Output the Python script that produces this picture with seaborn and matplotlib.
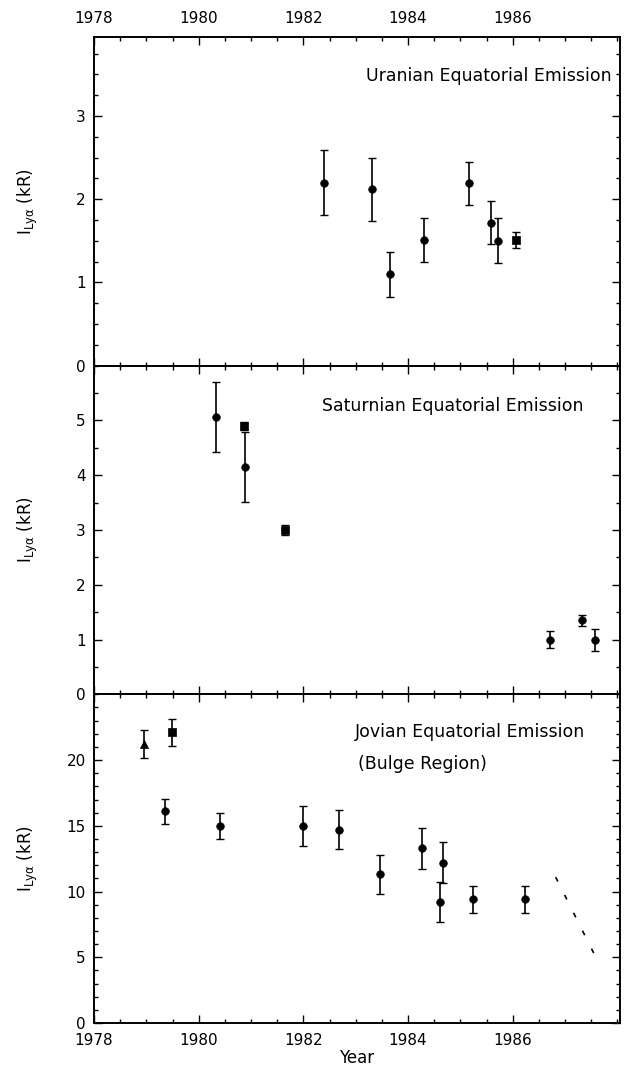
import matplotlib
matplotlib.use("Agg")
import matplotlib.pyplot as plt
import seaborn as sns
import numpy as np
import pandas as pd
from matplotlib.ticker import MultipleLocator

# ---------------- data ----------------
years_u = [1982.39, 1983.32, 1983.66, 1984.31, 1985.17, 1985.58, 1985.72, 1986.06]
vals_u = [2.20, 2.12, 1.10, 1.51, 2.19, 1.72, 1.50, 1.51]
errs_u = [0.39, 0.38, 0.27, 0.26, 0.26, 0.26, 0.27, 0.10]
mark_u = ["o", "o", "o", "o", "o", "o", "o", "s"]

years_s = [1980.34, 1980.86, 1980.88, 1981.65, 1986.72, 1987.33, 1987.57]
vals_s = [5.07, 4.90, 4.15, 3.00, 1.00, 1.35, 1.00]
errs_s = [0.64, 0.08, 0.63, 0.09, 0.16, 0.10, 0.20]
mark_s = ["o", "s", "o", "s", "o", "o", "o"]

years_j = [1978.95, 1979.36, 1979.49, 1980.40, 1981.99, 1982.68, 1983.47,
           1984.27, 1984.61, 1984.67, 1985.24, 1986.24]
vals_j = [21.2, 16.1, 22.1, 15.0, 15.0, 14.7, 11.3, 13.3, 9.2, 12.2, 9.4, 9.4]
errs_j = [1.05, 0.97, 1.00, 1.00, 1.50, 1.50, 1.50, 1.55, 1.50, 1.55, 1.00, 1.00]
mark_j = ["^", "o", "s", "o", "o", "o", "o", "o", "o", "o", "o", "o"]

dash_years = [1986.82, 1987.55]
dash_vals = [11.1, 5.3]

titles = [["Uranian Equatorial Emission"], ["Saturnian Equatorial Emission"],
          ["Jovian Equatorial Emission", "(Bulge Region)"]]
year_ticks = [1978, 1980, 1982, 1984, 1986]

# ---------------- style ----------------
sns.set_theme(style="ticks")
plt.rcParams["font.family"] = ["DejaVu Sans"]
plt.rcParams["mathtext.default"] = "regular"
plt.rcParams["text.color"] = "black"
plt.rcParams["axes.labelcolor"] = "black"

fig = plt.figure(figsize=(6.26, 10.69), dpi=100)
left, right = 94 / 626, 620 / 626
top_px, bot_px = 37, 1023
h = (bot_px - top_px) / 3
axes = []
for i in range(3):
    y0 = 1 - (top_px + (i + 1) * h) / 1069
    ax = fig.add_axes([left, y0, right - left, h / 1069])
    axes.append(ax)

panels = [
    (years_u, vals_u, errs_u, mark_u, (0, 3.95), [0, 1, 2, 3], 0.25),
    (years_s, vals_s, errs_s, mark_s, (0, 6.0), [0, 1, 2, 3, 4, 5], 0.5),
    (years_j, vals_j, errs_j, mark_j, (0, 25.0), [0, 5, 10, 15, 20], 1.0),
]
# text anchors (axes fraction, horizontal alignment) for the panel titles
title_pos = [[(0.985, 0.882, "right")], [(0.433, 0.878, "left")],
             [(0.496, 0.884, "left"), (0.502, 0.787, "left")]]

sizes = {"o": 30, "s": 38, "^": 34}
for ax, (yr, vl, er, mk, ylim, yt, ymin), title, tpos in zip(axes, panels, titles, title_pos):
    df = pd.DataFrame({"year": yr, "val": vl, "err": er, "mk": mk})
    ax.errorbar(df["year"], df["val"], yerr=df["err"], fmt="none",
                ecolor="black", elinewidth=1.2, capsize=2.8, capthick=1.0, zorder=2)
    for m in ["o", "s", "^"]:
        sub = df[df["mk"] == m]
        if len(sub):
            sns.scatterplot(data=sub, x="year", y="val", marker=m, s=sizes[m],
                            color="black", edgecolor="black", linewidth=0.5,
                            ax=ax, zorder=3, legend=False)
    ax.set_xlim(1978, 1988.05)
    ax.set_ylim(*ylim)
    ax.set_yticks(yt)
    ax.yaxis.set_minor_locator(MultipleLocator(ymin))
    ax.set_xticks(year_ticks)
    ax.xaxis.set_minor_locator(MultipleLocator(0.5))
    ax.tick_params(which="both", direction="in", top=True, right=True,
                   labelsize=11, colors="black", width=1.0)
    ax.tick_params(which="major", length=6)
    ax.tick_params(which="minor", length=3)
    ax.tick_params(axis="y", pad=6)
    for sp in ax.spines.values():
        sp.set_linewidth(1.4)
        sp.set_color("black")
    ax.set_ylabel(r"I$_{Ly\alpha}$ (kR)", fontsize=12)
    ax.yaxis.set_label_coords(-0.103, 0.5)
    ax.set_xlabel("")
    for line, (tx, ty, ha) in zip(title, tpos):
        ax.text(tx, ty, line, transform=ax.transAxes, ha=ha, va="center",
                fontsize=12.5)

axes[2].plot(dash_years, dash_vals, color="black", lw=1.2,
             linestyle=(0, (3, 9)))

axes[0].tick_params(axis="x", labeltop=True, labelbottom=False, pad=8)
axes[1].tick_params(labelbottom=False)
axes[2].tick_params(axis="x", pad=7)
axes[2].set_xlabel("Year", fontsize=12, labelpad=1)

fig.savefig("out.png", dpi=100)
